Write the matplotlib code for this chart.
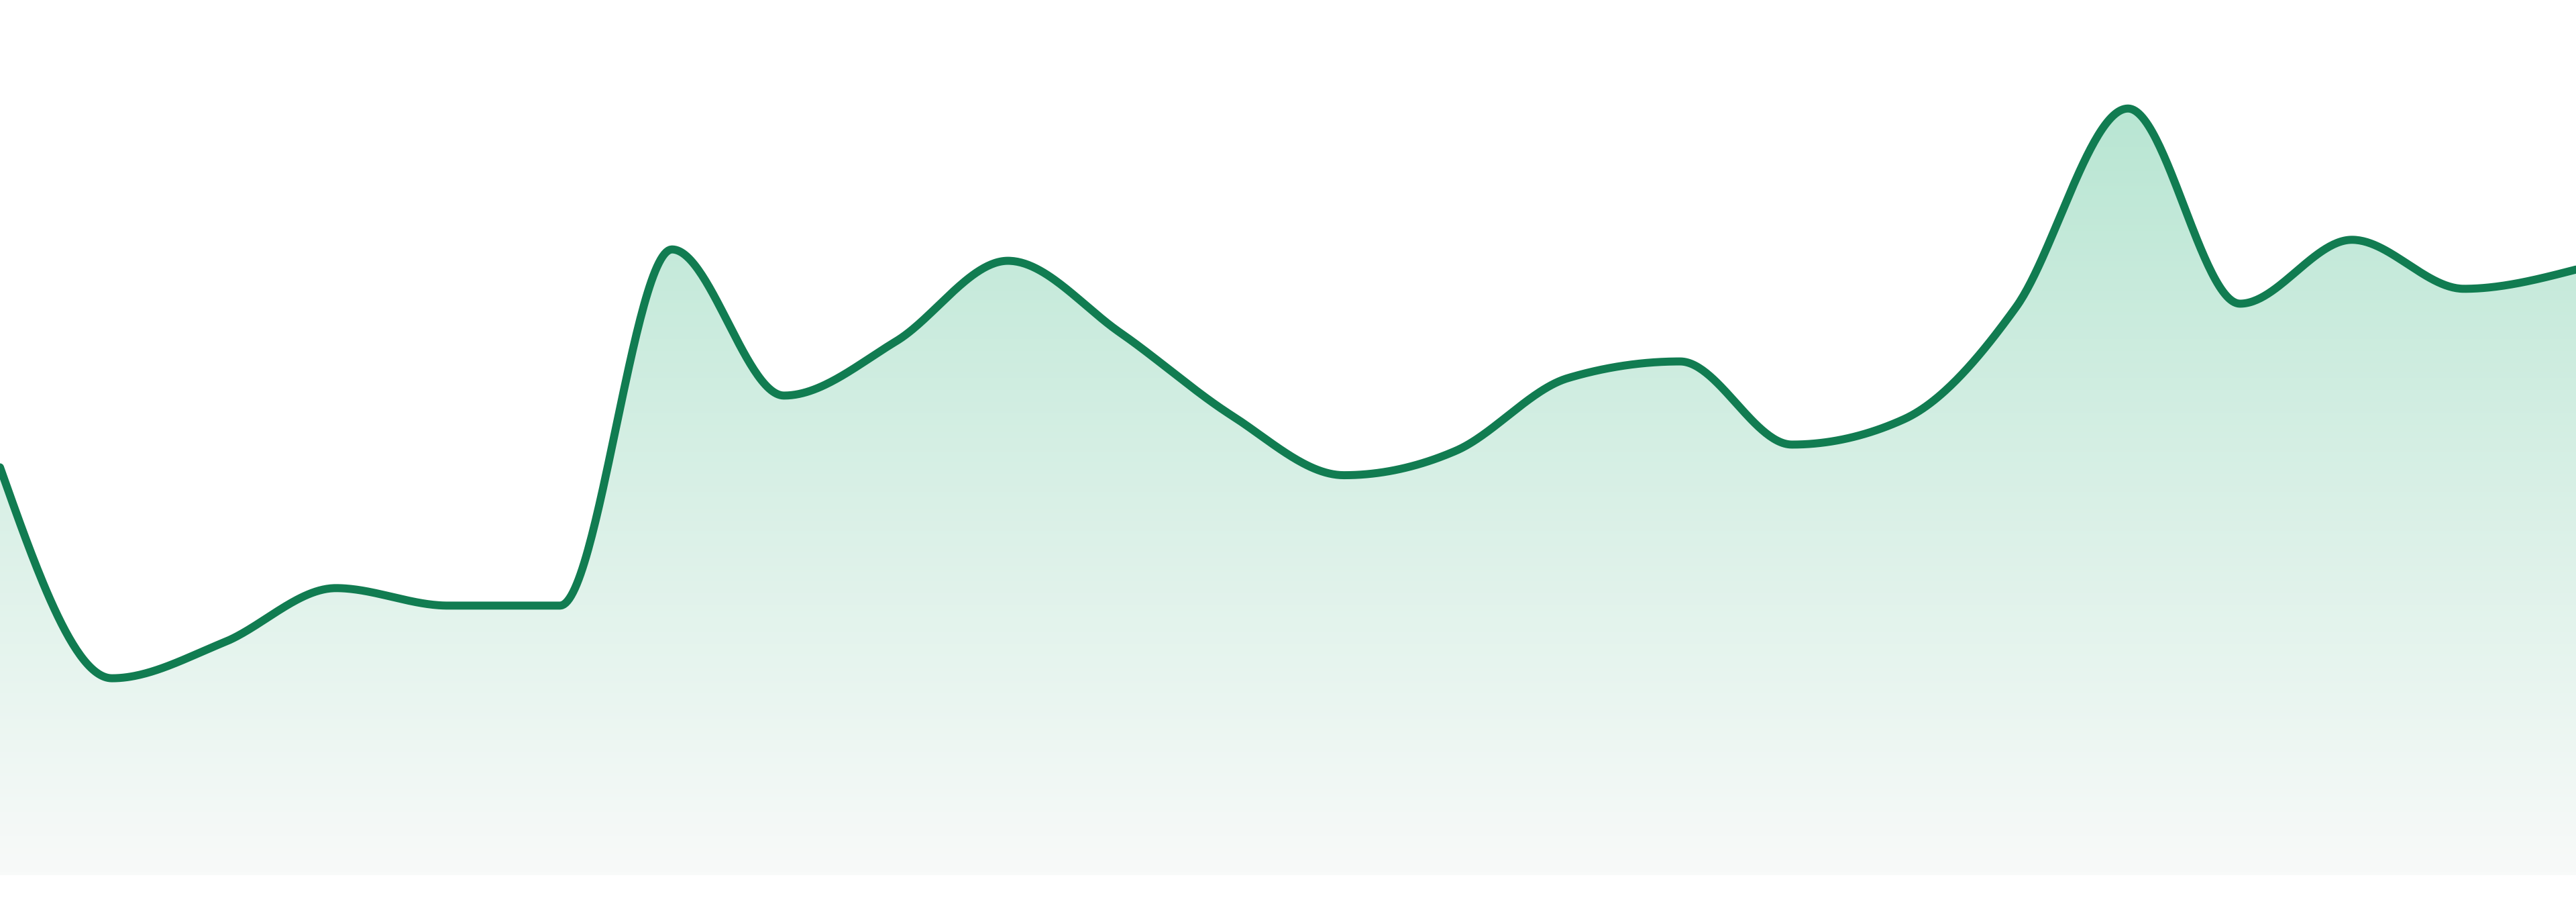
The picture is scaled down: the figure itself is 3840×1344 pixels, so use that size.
import numpy as np
import matplotlib
matplotlib.use("Agg")
import matplotlib.pyplot as plt
from matplotlib.colors import LinearSegmentedColormap


# one value per step (0 = chart floor, 100 = top edge)
steps = list(range(24))
values = [46.6, 22.5, 26.6, 32.8, 30.8, 30.8, 71.5, 54.8, 61.0, 70.2, 62.0, 52.5,
          45.7, 48.5, 56.8, 58.7, 49.2, 52.1, 64.9, 87.6, 65.3, 72.6, 67.0, 69.2]

LINE_COLOR = "#117c51"
FILL_TOP = "#b9e6d3"
FILL_BOTTOM = "#f8faf9"


def monotone_curve(x, y, per_seg=60):
    # monotone cubic (same slopes as d3.curveMonotoneX)
    x = np.asarray(x, dtype=float)
    y = np.asarray(y, dtype=float)
    h = np.diff(x)
    s = np.diff(y) / h
    n = len(x)
    t = np.zeros(n)
    for i in range(1, n - 1):
        p = (s[i - 1] * h[i] + s[i] * h[i - 1]) / (h[i - 1] + h[i])
        t[i] = (np.sign(s[i - 1]) + np.sign(s[i])) * min(abs(s[i - 1]), abs(s[i]), 0.5 * abs(p))
    t[0] = (3 * s[0] - t[1]) / 2
    t[-1] = (3 * s[-1] - t[-2]) / 2

    xs, ys = [], []
    for i in range(n - 1):
        u = np.linspace(0, 1, per_seg, endpoint=(i == n - 2))
        h00 = 2 * u**3 - 3 * u**2 + 1
        h10 = u**3 - 2 * u**2 + u
        h01 = -2 * u**3 + 3 * u**2
        h11 = u**3 - u**2
        xs.append(x[i] + u * h[i])
        ys.append(h00 * y[i] + h10 * h[i] * t[i] + h01 * y[i + 1] + h11 * h[i] * t[i + 1])
    return np.concatenate(xs), np.concatenate(ys)


def main():
    fig = plt.figure(figsize=(38.4, 13.44), dpi=100)
    fig.patch.set_facecolor("white")
    ax = fig.add_axes([0, 40 / 1344, 1, 1304 / 1344])

    cx, cy = monotone_curve(steps, values)

    # gradient area under the curve
    area = ax.fill_between(cx, cy, 0, facecolor="none", edgecolor="none")
    cmap = LinearSegmentedColormap.from_list("fade", [FILL_BOTTOM, FILL_TOP])
    grad = np.linspace(0, 1, 256).reshape(-1, 1)
    img = ax.imshow(grad, cmap=cmap, aspect="auto", origin="lower",
                    extent=[steps[0], steps[-1], 0, max(values)], zorder=1)
    img.set_clip_path(area.get_paths()[0], transform=ax.transData)

    ax.plot(cx, cy, color=LINE_COLOR, linewidth=8.6, solid_capstyle="round",
            solid_joinstyle="round", zorder=3)

    ax.set_xlim(steps[0], steps[-1])
    ax.set_ylim(0, 100)
    ax.axis("off")

    fig.savefig("out.png", dpi=100, facecolor="white")


if __name__ == "__main__":
    main()
